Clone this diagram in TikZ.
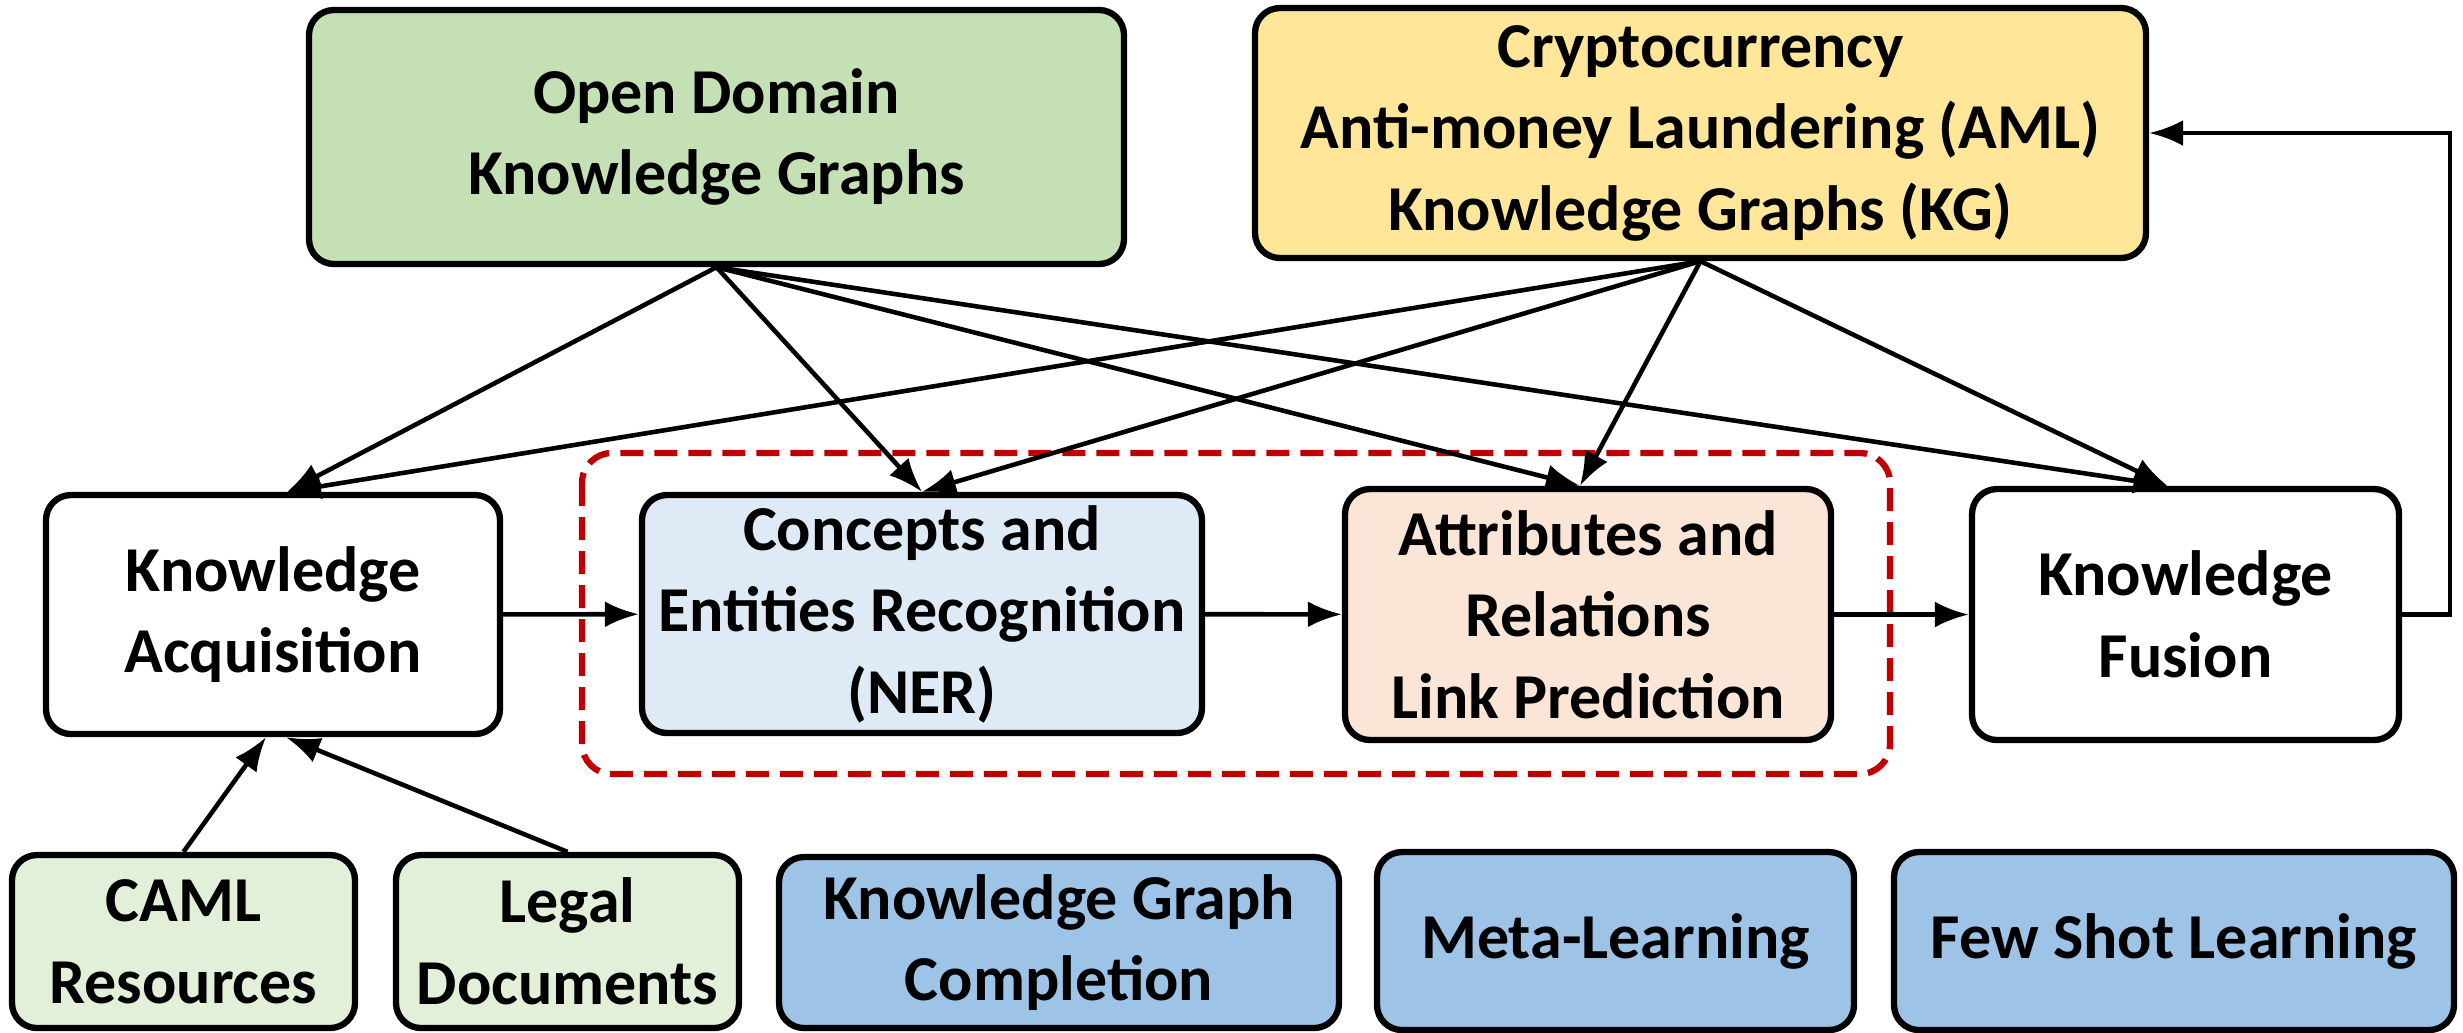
\documentclass[tikz,border=0pt]{standalone}
\usepackage{fontspec}
\setsansfont{Carlito}
\usepackage{tikz}
\usetikzlibrary{arrows.meta,positioning,calc}
\definecolor{leaf}{HTML}{C5E0B4}
\definecolor{sand}{HTML}{FFE699}
\definecolor{mist}{HTML}{DEEBF7}
\definecolor{peach}{HTML}{FBE5D6}
\definecolor{sage}{HTML}{E2F0D9}
\definecolor{sky}{HTML}{9DC3E6}
\definecolor{crimson}{HTML}{C00000}
\tikzset{
  kgbox/.style={
    rectangle, rounded corners=0.25cm, draw=black, fill=#1, line width=1.8pt,
    font=\fontsize{18.2}{23.2}\selectfont\sffamily\bfseries, align=center,
    inner sep=2pt
  },
  kgbox/.default=white,
  flow/.style={
    -{Latex[length=3.4mm,width=2.6mm]}, line width=1.3pt, color=black
  },
  groupline/.style={
    draw=crimson, line width=1.8pt, rounded corners=0.3cm,
    dash pattern=on 2.3mm off 1.1mm
  },
}
\begin{document}
\begin{tikzpicture}
  \useasboundingbox (0,0) rectangle (24.63,-10.32);

  % sources on top
  \node[kgbox=leaf, minimum width=8.15cm, minimum height=2.54cm] (odkg) at (7.165,-1.37)
    {Open Domain\\Knowledge Graphs};
  \node[kgbox=sand, minimum width=8.91cm, minimum height=2.5cm] (amlkg) at (17.005,-1.33)
    {Cryptocurrency\\Anti-money Laundering (AML)\\Knowledge Graphs (KG)};

  % construction pipeline
  \node[kgbox, minimum width=4.54cm, minimum height=2.39cm] (acq) at (2.73,-6.145)
    {Knowledge\\Acquisition};
  \node[kgbox=mist, minimum width=5.6cm, minimum height=2.38cm] (ner) at (9.22,-6.14)
    {Concepts and\\Entities Recognition\\(NER)};
  \node[kgbox=peach, minimum width=4.86cm, minimum height=2.51cm] (link) at (15.88,-6.145)
    {Attributes and\\Relations\\Link Prediction};
  \node[kgbox, minimum width=4.27cm, minimum height=2.51cm] (fusion) at (21.855,-6.145)
    {Knowledge\\Fusion};

  % dashed group round NER and link prediction
  \draw[groupline] (5.82,-4.53) rectangle (18.9,-7.74);

  % bottom row
  \node[kgbox=sage, minimum width=3.43cm, minimum height=1.73cm] (caml) at (1.835,-9.415)
    {CAML\\Resources};
  \node[kgbox=sage, minimum width=3.43cm, minimum height=1.73cm] (legal) at (5.675,-9.415)
    {Legal\\Documents};
  \node[kgbox=sky, minimum width=5.6cm, minimum height=1.71cm] (kgc) at (10.59,-9.425)
    {Knowledge Graph\\Completion};
  \node[kgbox=sky, minimum width=4.77cm, minimum height=1.78cm] (meta) at (16.155,-9.41)
    {Meta-Learning};
  \node[kgbox=sky, minimum width=5.6cm, minimum height=1.78cm] (fewshot) at (21.74,-9.41)
    {Few Shot Learning};

  % arrows from both graphs into the pipeline
  \foreach \s in {odkg,amlkg} {
    \draw[flow] (\s.south) -- ([xshift=0.14cm]acq.north);
    \draw[flow] (\s.south) -- (ner.north);
    \draw[flow] (\s.south) -- ([xshift=-0.08cm]link.north);
    \draw[flow] (\s.south) -- ([xshift=-0.18cm]fusion.north);
  }

  % pipeline
  \draw[flow] (acq) -- (ner);
  \draw[flow] (ner) -- (link);
  \draw[flow] (link) -- (fusion);
  \draw[flow] (fusion.east) -- ++(0.48,0) |- (amlkg.east);

  % resources
  \draw[flow] (caml.north) -- ([xshift=-0.07cm]acq.south);
  \draw[flow] (legal.north) -- ([xshift=0.13cm]acq.south);
\end{tikzpicture}
\end{document}
